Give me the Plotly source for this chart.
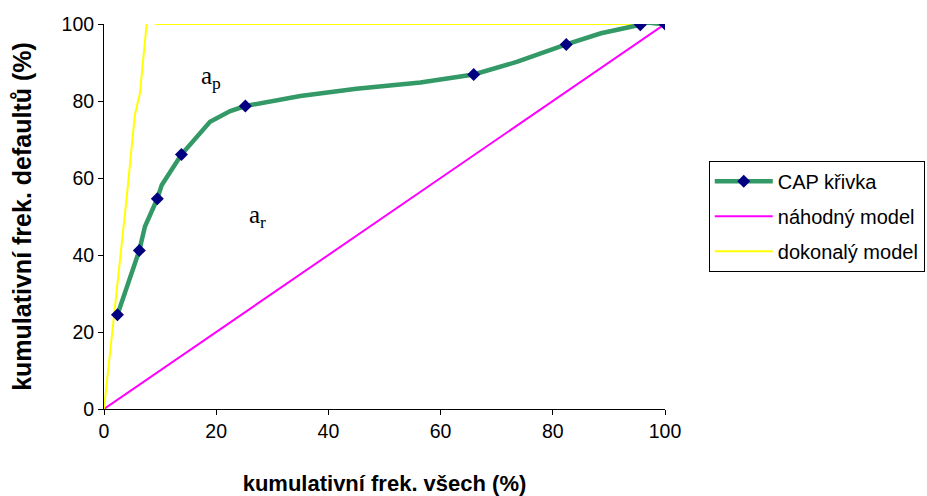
import plotly.graph_objects as go

# CAP curve (smoothed line points) and the highlighted marker points
cap_x = [2.4, 4.6, 6.3, 7.3, 9.5, 10.3, 12.1, 13.8, 18.9, 22.5, 25.2, 29.0, 35.0, 45.0, 51.0, 56.4, 65.9, 73.7, 82.4, 88.6, 95.6, 96.9, 99.3, 100]
cap_y = [24.5, 33.5, 41.2, 47.4, 54.6, 58.2, 62.1, 66.1, 74.6, 77.4, 78.7, 79.8, 81.3, 83.2, 83.9, 84.8, 86.9, 90.2, 94.7, 97.6, 99.8, 100.4, 100.0, 100]
mark_x = [2.4, 6.3, 9.5, 13.8, 25.2, 65.9, 82.4, 95.6, 100]
mark_y = [24.5, 41.2, 54.6, 66.1, 78.7, 86.9, 94.7, 99.8, 100]

# random model
rand_x = [0, 100]
rand_y = [0, 100]

# perfect model
perf_x = [0, 1.8, 4.0, 5.5, 6.4, 7.6, 8.1, 8.8, 9.4, 100]
perf_y = [0, 24.4, 54.3, 76.4, 82.0, 100.0, 100.5, 100.3, 100.0, 100]

GREEN = "#339966"
NAVY = "#000080"
FONT = "Liberation Sans"

fig = go.Figure()
fig.add_trace(go.Scatter(x=rand_x, y=rand_y, mode="lines", name="náhodný model",
                         line=dict(color="#FF00FF", width=2), legendgroup="b", legendrank=2))
fig.add_trace(go.Scatter(x=perf_x, y=perf_y, mode="lines", name="dokonalý model",
                         line=dict(color="#FFFF00", width=2), legendgroup="c", legendrank=3))
fig.add_trace(go.Scatter(x=cap_x, y=cap_y, mode="lines", showlegend=False,
                         line=dict(color=GREEN, width=4.5), hoverinfo="skip"))
fig.add_trace(go.Scatter(x=mark_x, y=mark_y, mode="markers", showlegend=False,
                         marker=dict(symbol="diamond", color=NAVY, size=10)))
# legend entry for the CAP curve
fig.add_trace(go.Scatter(x=[None], y=[None], mode="lines+markers", name="CAP křivka",
                         line=dict(color=GREEN, width=4.5),
                         marker=dict(symbol="diamond", color=NAVY, size=10),
                         legendgroup="a", legendrank=1))

fig.add_annotation(x=19.1, y=86.2, text="a<sub>p</sub>", showarrow=False,
                   font=dict(family="Liberation Serif", size=25, color="black"))
fig.add_annotation(x=27.3, y=49.9, text="a<sub>r</sub>", showarrow=False,
                   font=dict(family="Liberation Serif", size=25, color="black"))

axis_common = dict(showgrid=False, zeroline=False, showline=True, linecolor="black",
                   linewidth=1, ticks="outside", ticklen=5, tickcolor="black",
                   tickfont=dict(family=FONT, size=19.5, color="black"))

fig.update_xaxes(range=[0, 100], tickvals=[0, 20, 40, 60, 80, 100],
                 title=dict(text="<b>kumulativní frek. všech (%)</b>", standoff=34,
                            font=dict(family=FONT, size=22, color="black")),
                 **axis_common)
fig.update_yaxes(range=[0, 100], tickvals=[0, 20, 40, 60, 80, 100],
                 title=dict(text="<b>kumulativní frek. defaultů (%)</b>", standoff=22,
                            font=dict(family=FONT, size=25, color="black")),
                 **axis_common)

fig.update_layout(
    width=927, height=496,
    margin=dict(l=104, r=262, t=24, b=87, autoexpand=False),
    plot_bgcolor="white", paper_bgcolor="white",
    legend=dict(x=1.078, y=0.645, xanchor="left", yanchor="top",
                bordercolor="black", borderwidth=1, bgcolor="white",
                font=dict(family=FONT, size=20, color="black"),
                traceorder="grouped", tracegroupgap=6, itemwidth=58),
)

fig.write_html("out.html")
